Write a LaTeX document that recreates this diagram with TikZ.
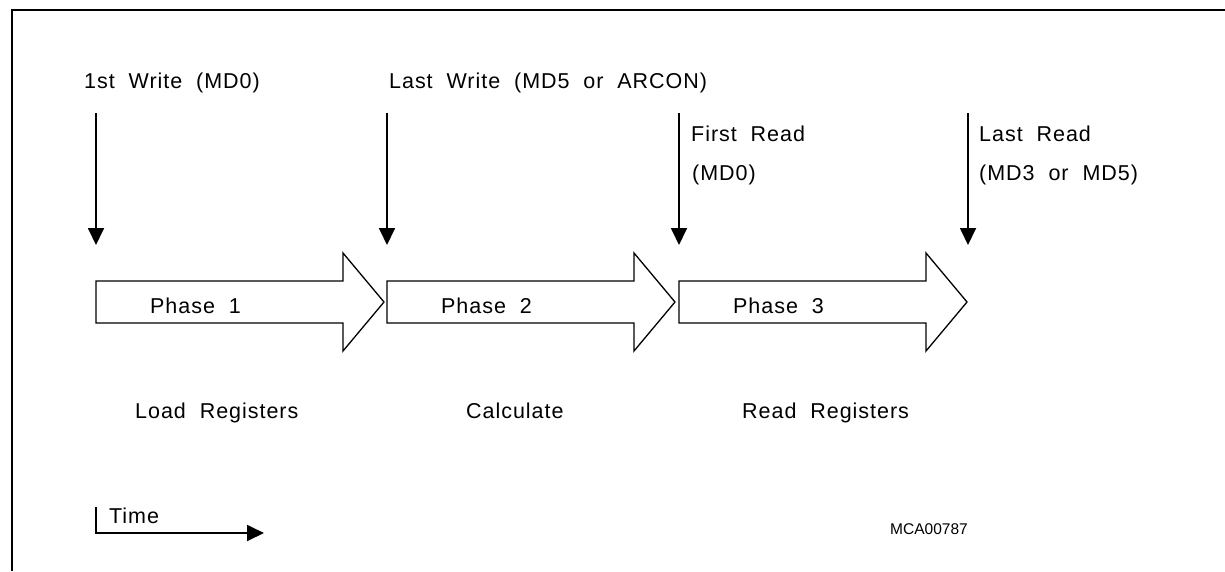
\documentclass[tikz,border=0pt]{standalone}
\usepackage{fontspec}
\setmainfont{Liberation Sans}
\newfontfamily\lblfont[LetterSpace=4.5,WordSpace=2]{Liberation Sans}
\usetikzlibrary{arrows.meta}
\tikzset{
  lbl/.style={anchor=base west, inner sep=0pt, font=\lblfont\fontsize{21.5}{24}\selectfont},
  idlbl/.style={anchor=base west, inner sep=0pt, font=\fontsize{15.5}{18}\selectfont},
  evarrow/.style={line width=1.8pt, -{Triangle[length=17pt,width=16pt]}},
  blockarrow/.style={draw, line width=1.3pt, line join=miter, fill=white},
  frameline/.style={line width=1.6pt}
}
\begin{document}
\begin{tikzpicture}[x=1pt,y=-1pt]
\useasboundingbox (0,0) rectangle (1225,571);
% frame
\coordinate (fl) at (12,571);
\coordinate (fc) at (12,10);
\coordinate (fr) at (1225,10);
\draw[frameline] (fl) -- (fc) -- (fr);

% block arrows
\foreach \i/\x in {1/96, 2/387, 3/679} {
  \draw[blockarrow] (\x,281) -- ++(247,0) -- ++(0,-28) -- ++(41,49) -- ++(-41,49) -- ++(0,-28) -- (\x,323) -- cycle;
}

% event arrow coordinates
\coordinate (e1s) at (96,113);  \coordinate (e1t) at (96,245);
\coordinate (e2s) at (387,113); \coordinate (e2t) at (387,245);
\coordinate (e3s) at (679,113); \coordinate (e3t) at (679,245);
\coordinate (e4s) at (968,113); \coordinate (e4t) at (968,245);
\draw[evarrow] (e1s) -- (e1t);
\draw[evarrow] (e2s) -- (e2t);
\draw[evarrow] (e3s) -- (e3t);
\draw[evarrow] (e4s) -- (e4t);

% labels
\node[lbl] (w1) at (84,88) {1st Write (MD0)};
\node[lbl] (w2) at (389,88) {Last Write (MD5 or ARCON)};
\node[lbl] (r1a) at (691,141) {First Read};
\node[lbl] (r1b) at (692,180) {(MD0)};
\node[lbl] (r2a) at (979,141) {Last Read};
\node[lbl] (r2b) at (979,180) {(MD3 or MD5)};

\node[lbl] (p1) at (150,313) {Phase 1};
\node[lbl] (p2) at (441,313) {Phase 2};
\node[lbl] (p3) at (733,313) {Phase 3};

\node[lbl] (d1) at (135,418) {Load Registers};
\node[lbl] (d2) at (466,418) {Calculate};
\node[lbl] (d3) at (742,418) {Read Registers};

% time axis
\coordinate (t0) at (96,507);
\coordinate (t1) at (96,533);
\coordinate (t2) at (264,533);
\draw[line width=1.8pt, -{Triangle[length=17pt,width=16pt]}] (t0) -- (t1) -- (t2);
\node[lbl] (tm) at (109,523) {Time};

\node[idlbl] (id) at (890,534) {MCA00787};
\end{tikzpicture}
\end{document}
